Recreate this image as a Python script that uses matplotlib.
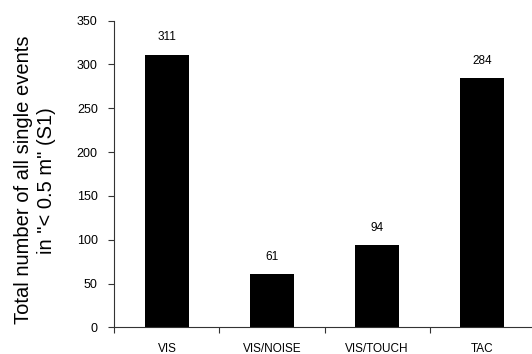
import matplotlib
matplotlib.use("Agg")
import matplotlib.pyplot as plt

plt.rcParams['font.family'] = ['Liberation Sans', 'DejaVu Sans']

categories = ['VIS', 'VIS/NOISE', 'VIS/TOUCH', 'TAC']
counts = [311, 61, 94, 284]
yticks = [0, 50, 100, 150, 200, 250, 300, 350]

fig = plt.figure(figsize=(5.32, 3.54), dpi=100)
ax = fig.add_axes([0.215, 0.075, 0.79, 0.867])

x = range(len(categories))
bars = ax.bar(x, counts, width=0.42, color='black')
for xi, v in zip(x, counts):
    ax.text(xi, v + 13, str(v), ha='center', va='bottom', fontsize=8.5)

ax.set_xlim(-0.5, 3.5)
ax.set_ylim(0, 350)
ax.set_yticks(yticks)
ax.set_xticks([i - 0.5 for i in range(4)], minor=False)
ax.set_xticklabels([])
ax.set_xticks(list(x), minor=True)
ax.set_xticklabels(categories, minor=True)
ax.tick_params(axis='x', which='minor', length=0, labelsize=8.5, pad=11)
ax.tick_params(axis='x', which='major', length=4, width=0.8, color='#333333')
ax.tick_params(axis='y', length=4, width=0.8, labelsize=9, pad=8, color='#333333')

for s in ['top', 'right']:
    ax.spines[s].set_visible(False)
for s in ['left', 'bottom']:
    ax.spines[s].set_color('#333333')
    ax.spines[s].set_linewidth(0.8)

ax.set_ylabel('Total number of all single events\nin "< 0.5 m" (S1)', fontsize=14.5,
              linespacing=1.25)
ax.yaxis.set_label_coords(-0.14, 0.48)

plt.savefig('out.png', dpi=100)
plt.close()
